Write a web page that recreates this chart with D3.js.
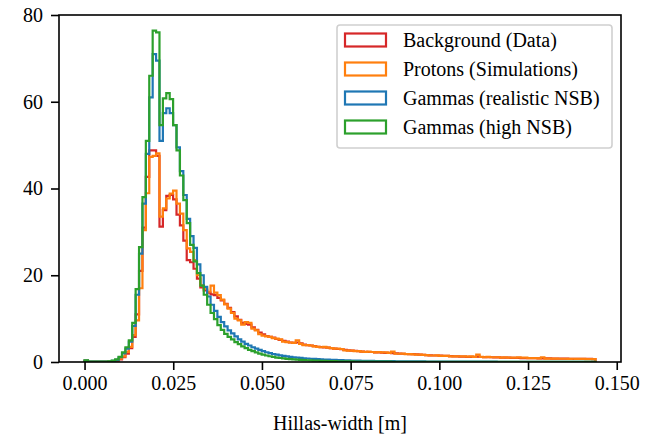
<!DOCTYPE html>
<html>
<head>
<meta charset="utf-8">
<script src="https://cdn.jsdelivr.net/npm/d3@7"></script>
<style>
  html, body { margin: 0; padding: 0; background: #fff; }
  svg { display: block; }
</style>
</head>
<body>
<svg id="chart" width="662" height="439"></svg>
<script>
// ---- Data ----
const binStart = 0;
const binEnd = 0.144;
const nBins = 150;

const seriesNames = ["Background (Data)", "Protons (Simulations)", "Gammas (realistic NSB)", "Gammas (high NSB)"];
const seriesColors = ["#d62728", "#ff7f0e", "#1f77b4", "#2ca02c"];

const background = [
  0.2,0.05,0.05,0.05,0.05,0.05,0.05,0.05,0.1,0.25,
  0.6,1.1,1.9,3.2,5.8,11,21,31,42.7,48.8,
  48.8,47.5,31.2,35,38.3,38.5,37.5,34,31.5,28,
  23.5,23,21.5,19.2,17.2,16.5,16,15.6,15.4,14.8,
  14.2,13.4,12.5,11.5,10.5,9.7,9.0,8.8,8.6,8.0,
  7.4,6.8,6.4,6.0,5.8,5.6,5.3,5.1,4.9,4.7,
  4.5,4.4,4.5,4.3,4.0,3.9,3.8,3.65,3.5,3.45,
  3.35,3.3,3.2,3.1,3.0,2.95,2.8,2.7,2.6,2.55,
  2.5,2.4,2.35,2.3,2.3,2.2,2.2,2.15,2.1,2.1,
  2.05,2.0,1.95,1.9,1.85,1.8,1.8,1.75,1.7,1.65,
  1.6,1.55,1.5,1.5,1.45,1.4,1.4,1.35,1.3,1.3,
  1.25,1.25,1.2,1.2,1.2,1.25,1.15,1.1,1.1,1.1,
  1.05,1.05,1.0,1.0,1.0,0.95,0.95,0.95,0.9,0.9,
  0.9,0.88,0.86,0.85,0.85,0.83,0.82,0.8,0.8,0.78,
  0.77,0.76,0.75,0.74,0.73,0.72,0.71,0.7,0.7,0.68
];

const protons = [
  0.3,0.05,0.05,0.05,0.05,0.05,0.05,0.08,0.15,0.35,
  0.8,1.3,2.3,3.5,6.2,9.6,17,30.4,38.9,47.3,
  47.5,48.1,33.5,35.4,37.7,38.8,39.5,36.5,34.2,30.4,
  26.2,25.4,23.5,20.0,17.7,16.9,16.2,17.6,16.0,15.4,
  14.4,13.3,12.3,11.3,10.0,9.6,8.6,9.2,9.0,7.7,
  7.3,6.4,6.1,5.9,5.8,5.5,5.4,5.2,4.7,4.6,
  4.5,4.4,5.0,4.2,3.9,3.9,3.8,3.6,3.5,3.4,
  3.5,3.3,3.2,3.1,3.1,3.0,2.7,2.6,2.6,2.5,
  2.5,2.4,2.3,2.4,2.3,2.2,2.3,2.2,2.2,2.1,
  2.4,1.9,1.9,1.95,1.8,1.8,1.75,1.7,1.7,1.65,
  1.6,1.5,1.5,1.55,1.4,1.4,1.4,1.3,1.3,1.3,
  1.3,1.3,1.25,1.3,1.2,1.7,1.2,1.1,1.2,1.1,
  1.1,1.1,1.0,1.1,1.0,1.0,1.0,1.05,1.0,1.0,
  0.9,0.9,0.9,0.85,1.1,0.8,0.8,0.8,0.8,0.75,
  0.75,0.75,0.7,0.75,0.7,0.7,0.7,0.68,0.68,0.65
];

const gammasRealistic = [
  0.3,0.08,0.08,0.08,0.08,0.08,0.08,0.1,0.25,0.5,
  1.1,2.0,3.1,4.7,8.3,15.5,25,36.5,48,61,
  71,69.5,51,57.4,58.5,57.4,54.6,49.5,44,38.5,
  33,29,26.3,22.5,20,17.3,15.1,13.2,11.8,10.4,
  9.2,8.2,7.3,6.6,5.9,5.2,4.7,4.2,3.8,3.4,
  3.1,2.8,2.5,2.25,2.05,1.85,1.68,1.53,1.4,1.28,
  1.18,1.08,1.0,0.93,0.87,0.81,0.75,0.7,0.65,0.61,
  0.57,0.53,0.5,0.47,0.44,0.41,0.39,0.36,0.34,0.32,
  0.3,0.28,0.27,0.25,0.24,0.23,0.22,0.21,0.2,0.19,
  0.18,0.17,0.17,0.16,0.15,0.15,0.14,0.14,0.13,0.13,
  0.12,0.12,0.11,0.11,0.11,0.1,0.1,0.1,0.09,0.09,
  0.09,0.09,0.08,0.08,0.08,0.08,0.07,0.07,0.07,0.07,
  0.07,0.06,0.06,0.06,0.06,0.06,0.06,0.05,0.05,0.05,
  0.05,0.05,0.05,0.05,0.05,0.04,0.04,0.04,0.04,0.04,
  0.04,0.04,0.04,0.04,0.04,0.04,0.04,0.04,0.04,0.04
];

const gammasHigh = [
  0.4,0.1,0.1,0.1,0.1,0.1,0.1,0.15,0.3,0.6,
  1.2,2.2,3.4,5.0,9.0,16.8,26.5,38,51,66,
  76.4,76.0,54.6,60.8,62,60.6,54.6,48.8,43,37.3,
  32,27,23.2,20.5,17.6,15.5,13.2,11.3,9.9,8.5,
  7.4,6.5,5.8,5.2,4.6,4.1,3.6,3.2,2.8,2.5,
  2.2,1.95,1.7,1.5,1.33,1.17,1.03,0.92,0.82,0.73,
  0.65,0.59,0.53,0.48,0.44,0.4,0.36,0.33,0.3,0.27,
  0.25,0.23,0.21,0.19,0.17,0.16,0.15,0.14,0.13,0.12,
  0.11,0.1,0.1,0.09,0.09,0.08,0.08,0.07,0.07,0.07,
  0.06,0.06,0.06,0.05,0.05,0.05,0.05,0.04,0.04,0.04,
  0.04,0.04,0.03,0.03,0.03,0.03,0.03,0.03,0.03,0.03,
  0.02,0.02,0.02,0.02,0.02,0.02,0.02,0.02,0.02,0.02,
  0.02,0.02,0.02,0.02,0.02,0.02,0.02,0.02,0.02,0.02,
  0.02,0.02,0.02,0.02,0.02,0.02,0.02,0.02,0.02,0.02,
  0.02,0.02,0.02,0.02,0.02,0.02,0.02,0.02,0.02,0.02
];

const xTicks = [0.000, 0.025, 0.050, 0.075, 0.100, 0.125, 0.150];
const yTicks = [0, 20, 40, 60, 80];
const xLabel = "Hillas-width [m]";

// ---- Layout ----
const FONT = '"Liberation Serif", "Times New Roman", serif';
const svg = d3.select("#chart");
const M = { left: 59, right: 621, top: 15, bottom: 362 };
const xPad = (binEnd - binStart) * 0.05;
const x = d3.scaleLinear().domain([binStart - xPad, binEnd + xPad]).range([M.left, M.right]);
const y = d3.scaleLinear().domain([0, 80]).range([M.bottom, M.top]);

const binW = (binEnd - binStart) / nBins;
function stepPoints(vals) {
  const pts = [[binStart, 0]];
  vals.forEach((v, i) => {
    pts.push([binStart + i * binW, v]);
    pts.push([binStart + (i + 1) * binW, v]);
  });
  pts.push([binStart + vals.length * binW, 0]);
  return pts;
}
const line = d3.line().x(d => x(d[0])).y(d => y(d[1]));

const allSeries = [background, protons, gammasRealistic, gammasHigh];

svg.append("defs").append("clipPath").attr("id", "clip")
  .append("rect").attr("x", M.left).attr("y", M.top).attr("width", M.right - M.left).attr("height", M.bottom - M.top);

const lines = svg.append("g").attr("clip-path", "url(#clip)");
allSeries.forEach((vals, k) => {
  lines.append("path")
    .attr("d", line(stepPoints(vals)))
    .attr("fill", "none")
    .attr("stroke", seriesColors[k])
    .attr("stroke-width", 2.2)
    .attr("stroke-linejoin", "miter");
});

// ---- Axes ----
const tickLen = 8;
const xAxis = d3.axisBottom(x).tickValues(xTicks).tickFormat(d3.format(".3f"))
  .tickSize(tickLen).tickSizeOuter(0).tickPadding(6);
const gx = svg.append("g").attr("transform", `translate(0,${M.bottom})`).call(xAxis);
gx.select(".domain").remove();
gx.selectAll("line").attr("stroke", "#000").attr("stroke-width", 1.6);
gx.selectAll("text").style("font-family", FONT).style("font-size", "20px").attr("fill", "#000");

const yAxis = d3.axisLeft(y).tickValues(yTicks).tickFormat(d3.format("d"))
  .tickSize(tickLen).tickSizeOuter(0).tickPadding(8);
const gy = svg.append("g").attr("transform", `translate(${M.left},0)`).call(yAxis);
gy.select(".domain").remove();
gy.selectAll("line").attr("stroke", "#000").attr("stroke-width", 1.6);
gy.selectAll("text").style("font-family", FONT).style("font-size", "20px").attr("fill", "#000");

svg.append("rect")
  .attr("x", M.left).attr("y", M.top).attr("width", M.right - M.left).attr("height", M.bottom - M.top)
  .attr("fill", "none").attr("stroke", "#000").attr("stroke-width", 1.6);

svg.append("text")
  .attr("x", (M.left + M.right) / 2).attr("y", 430)
  .attr("text-anchor", "middle")
  .style("font-family", FONT).style("font-size", "20px").attr("fill", "#000")
  .text(xLabel);

// ---- Legend ----
const lg = svg.append("g");
lg.append("rect")
  .attr("x", 337).attr("y", 25).attr("width", 275).attr("height", 123)
  .attr("rx", 3).attr("fill", "#fff").attr("fill-opacity", 0.8)
  .attr("stroke", "#d0d0d0").attr("stroke-width", 1.6);
seriesNames.forEach((name, k) => {
  const cy = 40 + k * 29;
  lg.append("rect")
    .attr("x", 345).attr("y", cy - 6.5).attr("width", 41).attr("height", 13)
    .attr("fill", "none").attr("stroke", seriesColors[k]).attr("stroke-width", 2.2);
  lg.append("text")
    .attr("x", 403).attr("y", cy + 6.5)
    .style("font-family", FONT).style("font-size", "20px").attr("fill", "#000")
    .text(name);
});
</script>
</body>
</html>
